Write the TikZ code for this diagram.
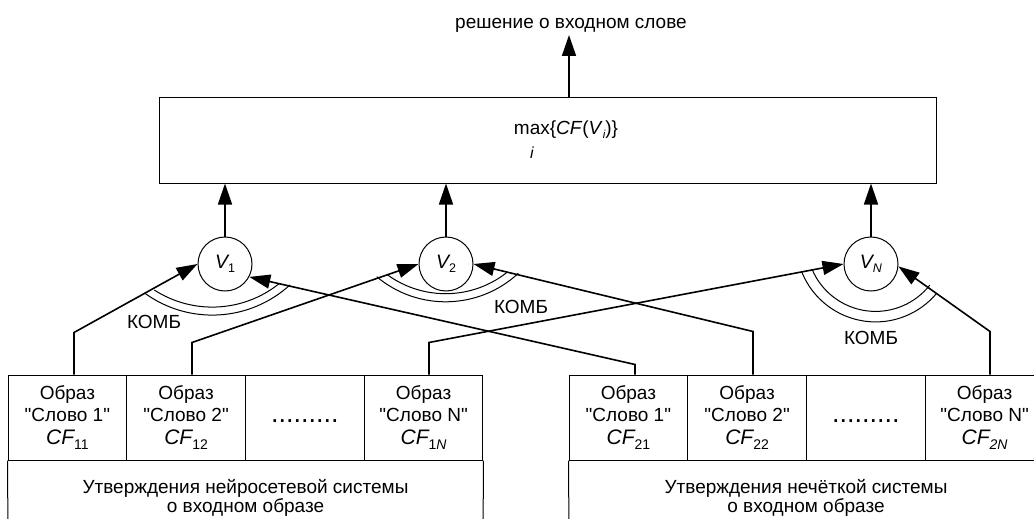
\documentclass[tikz,border=0pt]{standalone}
\usepackage{fontspec}
\setmainfont{Liberation Sans}[Ligatures=TeXOff]
\usetikzlibrary{arrows.meta,calc}
\newcommand{\cfx}[1]{{\fontsize{21}{21}\selectfont\itshape CF}\raisebox{-5pt}{\fontsize{14}{14}\selectfont #1}}
\newcommand{\vsym}[1]{{\itshape V}\raisebox{-4pt}{\fontsize{12.5}{12.5}\selectfont #1}}
\begin{document}
\begin{tikzpicture}[x=1pt,y=-1pt,
  every node/.style={font=\fontsize{19}{22}\selectfont, inner sep=0pt},
  conn/.style={line width=1.6pt, -{Triangle[length=21pt,width=14pt]}},
  thinline/.style={line width=1pt},
  cellbox/.style={draw, line width=1pt, minimum width=118.75pt, minimum height=85pt, align=center},
  vcirc/.style={draw, circle, line width=1pt, minimum size=54pt, font=\fontsize{19.5}{19.5}\selectfont},
  komb/.style={line width=1pt},
  lowtext/.style={align=center, font=\fontsize{19}{19.5}\selectfont},
]
\useasboundingbox (0,0) rectangle (1034,519);
\clip (0,0) rectangle (1034,519);

% top
\node (out) at (571,25) {решение о входном слове};
\node[draw, line width=1pt, minimum width=777pt, minimum height=85pt] (maxbox) at (547.5,140.5) {};
\node (maxt) at (566,130) {max\{\textit{CF}(\textit{V}\raisebox{-4pt}{\fontsize{11.5}{11.5}\selectfont\itshape i})\}};
\node[font=\fontsize{16}{16}\selectfont\itshape] (maxi) at (532,153) {i};
\coordinate (topend) at (569,35);
\draw[conn] (topend |- maxbox.north) -- (topend);

% circles
\node[vcirc] (V1) at (225,264) {\vsym{1}};
\node[vcirc] (V2) at (446,264) {\vsym{2}};
\node[vcirc] (VN) at (871,264) {\vsym{\itshape N}};
\draw[conn] (V1.north) -- (V1.north |- maxbox.south);
\draw[conn] (V2.north) -- (V2.north |- maxbox.south);
\draw[conn] (VN.north) -- (VN.north |- maxbox.south);

% left block
\node[cellbox] (a1) at (67.4,417.5) {Образ\\"Слово 1"\\[1pt]\cfx{11}};
\node[cellbox] (a2) at (186.1,417.5) {Образ\\"Слово 2"\\[1pt]\cfx{12}};
\node[cellbox] (a3) at (304.9,417.5) {};
\node[cellbox] (a4) at (423.6,417.5) {Образ\\"Слово N"\\[1pt]\cfx{1\textit{N}}};
\node[font=\fontsize{27}{27}\selectfont] (adots) at (304.9,421) {.........};
\draw[thinline] (a1.south west) -- (8,540) -- (483,540) -- (a4.south east);
\node[lowtext] (ta) at (245.5,498) {Утверждения нейросетевой системы\\о входном образе};

% right block
\node[cellbox] (b1) at (628.4,417.5) {Образ\\"Слово 1"\\[1pt]\cfx{21}};
\node[cellbox] (b2) at (747.1,417.5) {Образ\\"Слово 2"\\[1pt]\cfx{22}};
\node[cellbox] (b3) at (865.9,417.5) {};
\node[cellbox] (b4) at (984.6,417.5) {Образ\\"Слово N"\\[1pt]\cfx{\textit{2N}}};
\node[font=\fontsize{27}{27}\selectfont] (bdots) at (865.9,421) {.........};
\draw[thinline] (b1.south west) -- (569,540) -- (1044,540) -- (b4.south east);
\node[lowtext] (tb) at (806,498) {Утверждения нечёткой системы\\о входном образе};

% connectors
\draw[conn] ([xshift=6.6pt]a1.north) -- ++(0,-42) -- (V1.west);
\draw[conn] ([xshift=5.9pt]a2.north) -- ++(0,-32) -- (V2.west);
\draw[conn] ([xshift=5.4pt]a4.north) -- ++(0,-32) -- (VN.west);
\draw[conn] ([xshift=6.6pt]b1.north) -- ++(0,-10) -- (V1.-28);
\draw[conn] ([xshift=5.9pt]b2.north) -- ++(0,-43) -- (V2.east);
\draw[conn] ([xshift=5.4pt]b4.north) -- ++(0,-43) -- (VN.-5);

% KOMB arcs
\draw[komb] (212.3,200.1) ++(125.8:115) arc[start angle=125.8, end angle=47.5, radius=115];
\draw[komb] (212.3,200.1) ++(122.8:107) arc[start angle=122.8, end angle=51.4, radius=107];
\draw[komb] (445.6,194.7) ++(130:107.1) arc[start angle=130, end angle=47.2, radius=107.1];
\draw[komb] (445.6,194.7) ++(125.7:99) arc[start angle=125.7, end angle=51.3, radius=99];
\draw[komb] (875.6,242.4) ++(158.4:79.5) arc[start angle=158.4, end angle=39.8, radius=79.5];
\draw[komb] (875.6,242.4) ++(156.4:69) arc[start angle=156.4, end angle=38.3, radius=69];
\node (k1) at (154,321.5) {КОМБ};
\node (k2) at (521,306.5) {КОМБ};
\node (kN) at (871,338) {КОМБ};
\end{tikzpicture}
\end{document}
